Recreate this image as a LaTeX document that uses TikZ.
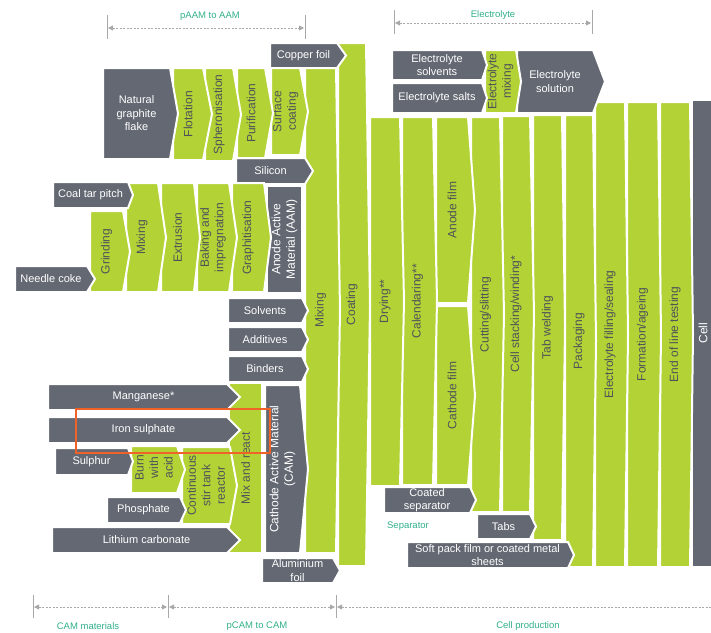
\documentclass[tikz,border=0pt]{standalone}
\usepackage{fontspec}
\setmainfont{Liberation Sans}
\usetikzlibrary{arrows.meta}
\definecolor{cellgreen}{RGB}{179,210,53}
\definecolor{cellgrey}{RGB}{99,104,114}
\definecolor{darktext}{RGB}{78,83,90}
\definecolor{labelteal}{RGB}{48,176,138}
\definecolor{dimgrey}{RGB}{168,168,168}
\definecolor{markorange}{RGB}{240,98,40}
\newcommand\chevfont{\fontsize{11}{13.5}\selectfont}
\newcommand\upfont{\fontsize{12}{14.5}\selectfont}
\newcommand\chev[9]{
    \path[#7] (#2,#3) -- (#4,#3) -- ({#4+#6},{(#3+#5)/2}) -- (#4,#5) -- (#2,#5) -- cycle;
    \node[#8] (#1) at ({(#2+#4)/2},{(#3+#5)/2}) {#9};
}
\tikzset{
    greybox/.style={fill=cellgrey, draw=white, line width=2pt},
    greenbox/.style={fill=cellgreen, draw=white, line width=2pt},
    greytext/.style={text=white, align=center, inner sep=0pt, font=\chevfont},
    greyuptext/.style={text=white, align=center, inner sep=0pt, rotate=90, font=\upfont},
    greentext/.style={text=darktext, align=center, inner sep=0pt, rotate=90, font=\upfont},
    dimlabel/.style={text=labelteal, inner sep=0pt, font=\fontsize{9.5}{11}\selectfont},
    dimline/.style={draw=dimgrey, line width=0.8pt, dash pattern=on 2pt off 1.5pt,
        shorten <=1pt, shorten >=1pt},
    dimtick/.style={draw=dimgrey, line width=1pt}
}

\begin{document}
\begin{tikzpicture}[x=1pt, y=-1pt]
    \useasboundingbox (0,0) rectangle (711,632);
    \begin{scope}
    \clip (0,0) rectangle (711,632);

    %draws cell production columns (right to left, so tips lie on top):
    \path[greybox] (692,100) rectangle (730,567);
    \node[greyuptext] (cellcol) at (703,333) {Cell};
    \chev{endline}{660}{102}{690}{567}{3}{greenbox}{greentext}{End of line testing}
    \chev{formation}{627}{102}{658}{567}{3}{greenbox}{greentext}{Formation/ageing}
    \chev{elfill}{595}{102}{625}{567}{3}{greenbox}{greentext}{Electrolyte filling/sealing}

    %draws electrolyte branch:
    \chev{elsolution}{517}{50}{593}{113}{12}{greybox}{greytext}{Electrolyte\\solution}
    \chev{elmixing}{485}{50}{516}{113}{5}{greenbox}{greentext}{Electrolyte\\mixing}
    \chev{elsolvents}{392}{50}{482}{80}{5}{greybox}{greytext}{Electrolyte\\solvents}
    \chev{elsalts}{392}{83}{482}{113}{5}{greybox}{greytext}{Electrolyte salts}

    \chev{packaging}{565}{115}{593}{567}{3}{greenbox}{greentext}{Packaging}
    \chev{softpack}{407}{542}{568}{568}{6}{greybox}{greytext}{Soft pack film or coated metal\\sheets}
    \chev{tabwelding}{533}{115}{562}{540}{3}{greenbox}{greentext}{Tab welding}
    \chev{tabs}{477}{514}{530}{539}{6}{greybox}{greytext}{Tabs}
    \chev{cellstack}{502}{116}{530}{512}{4}{greenbox}{greentext}{Cell stacking/winding*}
    \chev{cutting}{471}{117}{500}{512}{4}{greenbox}{greentext}{Cutting/slitting}
    \chev{coatsep}{384}{487}{470}{513}{6}{greybox}{greytext}{Coated\\separator}
    \chev{anodefilm}{436}{117}{468}{303}{7}{greenbox}{greentext}{Anode film}
    \chev{cathodefilm}{436}{306}{468}{485}{7}{greenbox}{greentext}{Cathode film}
    \chev{calendaring}{402}{117}{433}{485}{4}{greenbox}{greentext}{Calendaring**}
    \chev{drying}{370}{117}{400}{486}{4}{greenbox}{greentext}{Drying**}
    \chev{coating}{338}{43}{366}{566}{4}{greenbox}{greentext}{Coating}
    \chev{copperfoil}{270}{43}{337}{68}{9}{greybox}{greytext}{Copper foil}
    \chev{alufoil}{262}{558}{333}{583}{7}{greybox}{greytext}{Aluminium\\foil}
    \chev{mixing}{305}{68}{336}{553}{4}{greenbox}{greentext}{Mixing}

    %draws anode inputs:
    \chev{surfcoat}{271}{68}{300}{155}{8}{greenbox}{greentext}{Surface\\coating}
    \chev{silicon}{236}{158}{305}{184}{8}{greybox}{greytext}{Silicon}
    \chev{aam}{267}{186}{302}{293}{0}{greybox}{greyuptext}{Anode Active\\Material (AAM)}
    \chev{solvents}{228}{298}{302}{323}{6}{greybox}{greytext}{Solvents}
    \chev{additives}{228}{327}{302}{352}{6}{greybox}{greytext}{Additives}
    \chev{binders}{228}{356}{302}{382}{6}{greybox}{greytext}{Binders}
    \chev{cam}{265}{385}{300}{553}{8}{greybox}{greyuptext}{Cathode Active Material\\(CAM)}
    \chev{purification}{237}{68}{265}{158}{8}{greenbox}{greentext}{Purification}
    \chev{spheron}{205}{68}{233}{161}{8}{greenbox}{greentext}{Spheronisation}
    \chev{flotation}{173}{68}{203}{160}{9}{greenbox}{greentext}{Flotation}
    \chev{natgraphite}{103}{68}{170}{159}{8}{greybox}{greytext}{Natural\\graphite\\flake}
    \chev{graphitis}{232}{183}{264}{292}{7}{greenbox}{greentext}{Graphitisation}
    \chev{baking}{197}{183}{229}{292}{8}{greenbox}{greentext}{Baking and\\impregnation}
    \chev{extrusion}{161}{183}{194}{292}{6}{greenbox}{greentext}{Extrusion}
    \chev{mixingsyn}{126}{183}{158}{292}{8}{greenbox}{greentext}{Mixing}
    \chev{coaltar}{53}{182}{128}{208}{5}{greybox}{greytext}{Coal tar pitch}
    \chev{grinding}{90}{211}{123}{292}{7}{greenbox}{greentext}{Grinding}
    \chev{needlecoke}{15}{266}{87}{292}{8}{greybox}{greytext}{Needle coke}

    %draws cathode inputs:
    \chev{mixreact}{229}{383}{262}{553}{0}{greenbox}{greentext}{Mix and react}
    \chev{manganese}{48}{384}{227}{410}{13}{greybox}{greytext,xshift=6pt}{Manganese*}
    \chev{ironsulph}{48}{417}{227}{443}{13}{greybox}{greytext,xshift=6pt}{Iron sulphate}
    \chev{lithium}{52}{527}{227}{553}{13}{greybox}{greytext,xshift=7pt}{Lithium carbonate}
    \chev{cstr}{182}{447}{230}{524}{7}{greenbox}{greentext}{Continuous\\stir tank\\reactor}
    \chev{phosphate}{107}{497}{180}{523}{6}{greybox}{greytext}{Phosphate}
    \chev{burnacid}{131}{446}{177}{493}{8}{greenbox}{greentext,xshift=2pt}{Burn\\with\\acid}
    \chev{sulphur}{55}{448}{128}{475}{5}{greybox}{greytext}{Sulphur}

    \node[dimlabel] (seplabel) at (408,526) {Separator};

    %draws highlight:
    \draw[markorange, line width=2.5pt] (76,409) rectangle (270,453);

    %draws stage brackets:
    \foreach \x in {107,305} \draw[dimtick] (\x,15) -- (\x,39);
    \foreach \x in {394,592} \draw[dimtick] (\x,10) -- (\x,34);
    \foreach \x in {33,168,336} \draw[dimtick] (\x,595) -- (\x,618);

    \coordinate (paamL) at (107,28);
    \coordinate (paamR) at (305,28);
    \coordinate (elecL) at (394,23);
    \coordinate (elecR) at (592,23);
    \coordinate (camL) at (33,607);
    \coordinate (camM) at (168,607);
    \coordinate (camR) at (336,607);
    \coordinate (cellR) at (720,607);

    \draw[dimline, arrows={Triangle[length=5pt,width=5pt]-Triangle[length=5pt,width=5pt]}] (paamL) -- (paamR);
    \draw[dimline, arrows={Triangle[length=5pt,width=5pt]-Triangle[length=5pt,width=5pt]}] (elecL) -- (elecR);
    \draw[dimline, arrows={Triangle[length=5pt,width=5pt]-Triangle[length=5pt,width=5pt]}] (camL) -- (camM);
    \draw[dimline, arrows={Triangle[length=5pt,width=5pt]-Triangle[length=5pt,width=5pt]}] (camM) -- (camR);
    \draw[dimline, arrows={Triangle[length=5pt,width=5pt]-}] (camR) -- (cellR);

    \node[dimlabel] (paamlabel) at (210,16) {pAAM to AAM};
    \node[dimlabel] (eleclabel) at (493,15) {Electrolyte};
    \node[dimlabel] (cammatlabel) at (88,626) {CAM materials};
    \node[dimlabel] (pcamlabel) at (257,626) {pCAM to CAM};
    \node[dimlabel] (celllabel) at (528,626) {Cell production};
    \end{scope}
\end{tikzpicture}
\end{document}
